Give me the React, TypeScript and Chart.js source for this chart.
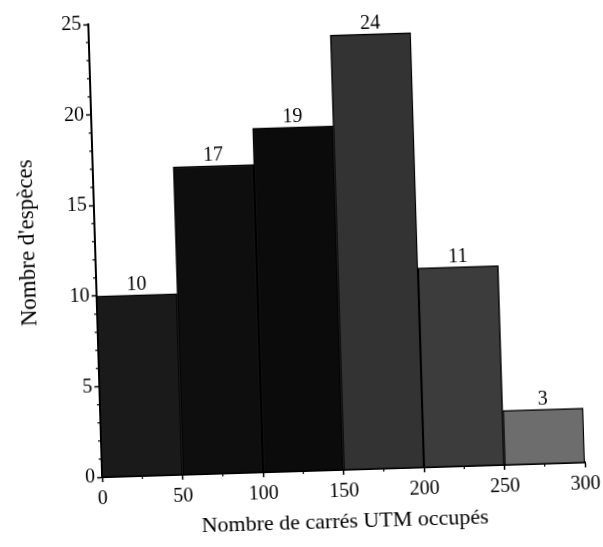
import React, { useEffect, useRef } from "react";
import { Chart, registerables } from "chart.js";

Chart.register(...registerables);

const binStarts = [0, 50, 100, 150, 200, 250];
const binWidth = 50;
const counts = [10, 17, 19, 24, 11, 3];
const barColors = ["#1a1a1a", "#0e0e0e", "#0b0b0b", "#333333", "#3c3c3c", "#6d6d6d"];
const yMinorStep = 1;
const xMinorStep = 25;
const yTitle = "Nombre d'espèces";
const xTitle = "Nombre de carrés UTM occupés";

const FONT = "'Liberation Serif', 'Times New Roman', serif";

const minorTicks = {
  id: "minorTicks",
  afterDraw(chart: any) {
    const { ctx, chartArea, scales } = chart;
    const ys = scales.y;
    const xs = scales.x;
    ctx.save();
    ctx.strokeStyle = "#000";
    ctx.lineWidth = 1.2;
    for (let v = ys.min; v <= ys.max; v += yMinorStep) {
      if (v % 5 === 0) continue;
      const y = ys.getPixelForValue(v);
      ctx.beginPath();
      ctx.moveTo(chartArea.left - 3, y);
      ctx.lineTo(chartArea.left, y);
      ctx.stroke();
    }
    for (let v = xs.min; v <= xs.max; v += xMinorStep) {
      if (v % 50 === 0) continue;
      const x = xs.getPixelForValue(v);
      ctx.beginPath();
      ctx.moveTo(x, chartArea.bottom);
      ctx.lineTo(x, chartArea.bottom + 3);
      ctx.stroke();
    }
    ctx.restore();
  },
};

const yTitlePlugin = {
  id: "yTitlePlugin",
  afterDraw(chart: any) {
    const { ctx, chartArea } = chart;
    ctx.save();
    ctx.fillStyle = "#000";
    ctx.font = `23px ${FONT}`;
    ctx.textAlign = "center";
    ctx.textBaseline = "middle";
    ctx.translate(29, (chartArea.top + chartArea.bottom) / 2 - 10);
    ctx.rotate(-Math.PI / 2);
    ctx.fillText(yTitle, 0, 0);
    ctx.restore();
  },
};

const valueLabels = {
  id: "valueLabels",
  afterDatasetsDraw(chart: any) {
    const { ctx } = chart;
    const meta = chart.getDatasetMeta(0);
    ctx.save();
    ctx.fillStyle = "#000";
    ctx.font = `20px ${FONT}`;
    ctx.textAlign = "center";
    ctx.textBaseline = "alphabetic";
    meta.data.forEach((el: any, i: number) => {
      ctx.fillText(String(counts[i]), el.x, el.y - 5);
    });
    ctx.restore();
  },
};

export default function App() {
  const ref = useRef<HTMLCanvasElement>(null);

  useEffect(() => {
    if (!ref.current) return;
    const chart = new Chart(ref.current, {
      type: "bar",
      data: {
        datasets: [
          {
            data: binStarts.map((s, i) => ({ x: s + binWidth / 2, y: counts[i] })),
            backgroundColor: barColors,
            borderColor: "#000",
            borderWidth: 1.5,
            barPercentage: 1,
            categoryPercentage: 1,
          },
        ],
      },
      options: {
        responsive: false,
        animation: false,
        layout: { padding: { left: 0, top: 18, right: 24, bottom: 0 } },
        plugins: {
          legend: { display: false },
          tooltip: { enabled: false },
        },
        scales: {
          x: {
            type: "linear",
            min: 0,
            max: 300,
            offset: false,
            grid: {
              offset: false,
              drawOnChartArea: false,
              drawTicks: true,
              tickLength: 5,
              tickColor: "#000",
              tickWidth: 1.5,
            },
            border: { display: true, color: "#000", width: 2 },
            ticks: {
              stepSize: 50,
              color: "#000",
              font: { family: FONT, size: 20 },
              padding: 5,
              maxRotation: 0,
            },
            title: {
              display: true,
              text: xTitle,
              color: "#000",
              font: { family: FONT, size: 22 },
              padding: { top: 0, bottom: 11 },
            },
            afterFit(scale: any) {
              scale.height = 76;
            },
          },
          y: {
            type: "linear",
            min: 0,
            max: 25,
            grid: {
              drawOnChartArea: false,
              drawTicks: true,
              tickLength: 5,
              tickColor: "#000",
              tickWidth: 1.5,
            },
            border: { display: true, color: "#000", width: 2 },
            ticks: {
              stepSize: 5,
              color: "#000",
              font: { family: FONT, size: 20 },
              padding: 2,
            },
            title: { display: false },
            afterFit(scale: any) {
              scale.width = 96;
            },
          },
        },
      },
      plugins: [minorTicks, valueLabels, yTitlePlugin],
    });
    return () => chart.destroy();
  }, []);

  return (
    <div
      style={{
        position: "absolute",
        left: 0,
        top: 0,
        width: 603,
        height: 547,
        background: "#fff",
        overflow: "hidden",
      }}
    >
      <canvas
        ref={ref}
        width={603}
        height={547}
        style={{
          display: "block",
          transform: "rotate(-1.75deg)",
          transformOrigin: "301px 273px",
        }}
      />
    </div>
  );
}
